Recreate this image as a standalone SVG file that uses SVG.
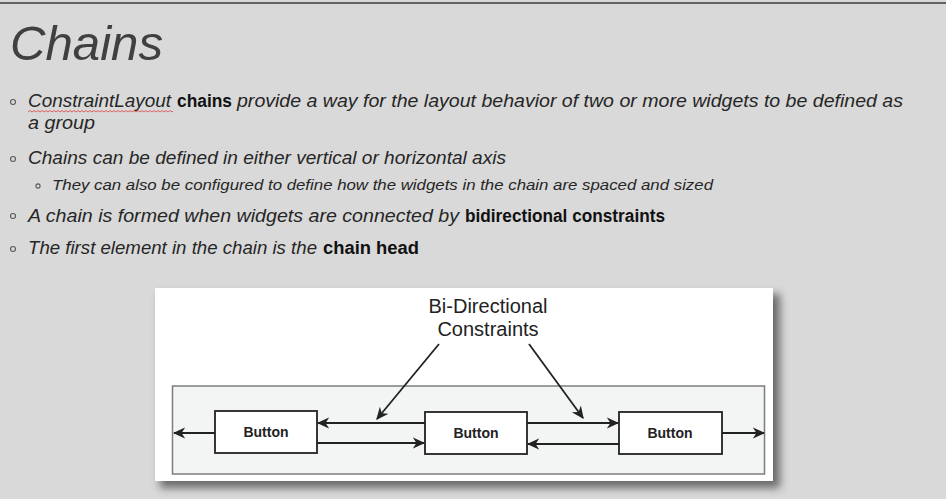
<svg xmlns="http://www.w3.org/2000/svg" width="946" height="499" viewBox="0 0 946 499">
  <style>
    .it { font-family: "Liberation Sans", Arial, sans-serif; font-style: italic; fill: #262626; }
    .bd { font-family: "Liberation Sans", Arial, sans-serif; font-weight: bold; font-style: normal; fill: #111; }
    .bul { fill: none; stroke: #595959; stroke-width: 1.1; }
    .box { fill: #ffffff; stroke: #222; stroke-width: 1.8; }
    .btn { font-family: "Liberation Sans", Arial, sans-serif; font-weight: bold; font-size: 14px; fill: #222; text-anchor: middle; }
    .lbl { font-family: "Liberation Sans", Arial, sans-serif; font-size: 20px; fill: #222; text-anchor: middle; }
    .con { fill: none; stroke: #222; stroke-width: 1.8; marker-end: url(#ah); }
  </style>
  <defs>
    <marker id="ah" viewBox="0 0 10 10" refX="9" refY="5" markerWidth="7" markerHeight="7" orient="auto" markerUnits="strokeWidth">
      <path d="M0,0.5 L10,5 L0,9.5 L3,5 Z" fill="#222"/>
    </marker>
    <filter id="sh" x="-10%" y="-20%" width="120%" height="140%">
      <feGaussianBlur stdDeviation="4"/>
    </filter>
  </defs>

  <rect x="0" y="0" width="946" height="499" fill="#d9d9d9"/>
  <line x1="0" y1="3" x2="946" y2="3" stroke="#3a3a3a" stroke-width="1.5"/>

  <g id="title">
    <text x="10" y="60" font-family="Liberation Sans, Arial, sans-serif" font-style="italic" font-size="48" fill="#404040" textLength="153" lengthAdjust="spacingAndGlyphs">Chains</text>
  </g>

  <g id="bullets">
    <circle class="bul" cx="13" cy="102" r="2.5"/>
    <circle class="bul" cx="13" cy="159" r="2.5"/>
    <circle class="bul" cx="38" cy="186" r="2.1"/>
    <circle class="bul" cx="13" cy="216" r="2.5"/>
    <circle class="bul" cx="13" cy="249" r="2.5"/>

    <text font-size="18" y="107">
      <tspan class="it" x="28" textLength="143" lengthAdjust="spacingAndGlyphs">ConstraintLayout</tspan>
      <tspan class="bd" x="177" textLength="55" lengthAdjust="spacingAndGlyphs">chains</tspan>
      <tspan class="it" x="237" textLength="666" lengthAdjust="spacingAndGlyphs">provide a way for the layout behavior of two or more widgets to be defined as</tspan>
    </text>
    <path d="M28,112 l2,-1.5 l2,1.5 l2,-1.5 l2,1.5 l2,-1.5 l2,1.5 l2,-1.5 l2,1.5 l2,-1.5 l2,1.5 l2,-1.5 l2,1.5 l2,-1.5 l2,1.5 l2,-1.5 l2,1.5 l2,-1.5 l2,1.5 l2,-1.5 l2,1.5 l2,-1.5 l2,1.5 l2,-1.5 l2,1.5 l2,-1.5 l2,1.5 l2,-1.5 l2,1.5 l2,-1.5 l2,1.5 l2,-1.5 l2,1.5 l2,-1.5 l2,1.5 l2,-1.5 l2,1.5 l2,-1.5 l2,1.5 l2,-1.5 l2,1.5 l2,-1.5 l2,1.5 l2,-1.5 l2,1.5 l2,-1.5 l2,1.5 l2,-1.5 l2,1.5 l2,-1.5 l2,1.5 l2,-1.5 l2,1.5 l2,-1.5 l2,1.5 l2,-1.5 l2,1.5 l2,-1.5 l2,1.5 l2,-1.5 l2,1.5 l2,-1.5 l2,1.5 l2,-1.5 l2,1.5 l2,-1.5 l2,1.5 l2,-1.5 l2,1.5 l2,-1.5 l2,1.5 l2,-1.5 l2,1.5 l1,-1" fill="none" stroke="#e04040" stroke-width="0.8"/>
    <text class="it" font-size="18" x="28" y="129" textLength="67" lengthAdjust="spacingAndGlyphs">a group</text>

    <text class="it" font-size="18" x="28" y="164" textLength="478" lengthAdjust="spacingAndGlyphs">Chains can be defined in either vertical or horizontal axis</text>

    <text class="it" font-size="15" x="52" y="190" textLength="661" lengthAdjust="spacingAndGlyphs">They can also be configured to define how the widgets in the chain are spaced and sized</text>

    <text font-size="18" y="222">
      <tspan class="it" x="28" textLength="431" lengthAdjust="spacingAndGlyphs">A chain is formed when widgets are connected by</tspan>
      <tspan class="bd" x="465" textLength="200" lengthAdjust="spacingAndGlyphs">bidirectional constraints</tspan>
    </text>

    <text font-size="18" y="254">
      <tspan class="it" x="28" textLength="289" lengthAdjust="spacingAndGlyphs">The first element in the chain is the</tspan>
      <tspan class="bd" x="323" textLength="96" lengthAdjust="spacingAndGlyphs">chain head</tspan>
    </text>
  </g>

  <g id="figure">
    <rect x="160" y="294" width="620" height="194" fill="#444" opacity="0.75" filter="url(#sh)"/>
    <rect x="155" y="288" width="618" height="193" fill="#ffffff"/>
    <rect x="172.5" y="386" width="592" height="88" fill="#f3f4f4" stroke="#7d7d7d" stroke-width="1.5"/>
  </g>

  <g id="label">
    <text class="lbl" x="488" y="313">Bi-Directional</text>
    <text class="lbl" x="488" y="336">Constraints</text>
  </g>

  <g id="connectors">
    <line class="con" x1="439" y1="344" x2="377" y2="419"/>
    <line class="con" x1="529" y1="344" x2="583" y2="418"/>
    <line class="con" x1="215" y1="433" x2="174" y2="433"/>
    <line class="con" x1="425" y1="423" x2="318" y2="423"/>
    <line class="con" x1="317" y1="443" x2="424" y2="443"/>
    <line class="con" x1="527" y1="423" x2="618" y2="423"/>
    <line class="con" x1="619" y1="444" x2="528" y2="444"/>
    <line class="con" x1="722" y1="433" x2="764" y2="433"/>
  </g>

  <g id="button1">
    <rect class="box" x="215" y="411" width="102" height="42"/>
    <text class="btn" x="266" y="437">Button</text>
  </g>
  <g id="button2">
    <rect class="box" x="425" y="412" width="102" height="42"/>
    <text class="btn" x="476" y="438">Button</text>
  </g>
  <g id="button3">
    <rect class="box" x="619" y="412" width="103" height="42"/>
    <text class="btn" x="670" y="438">Button</text>
  </g>
</svg>
